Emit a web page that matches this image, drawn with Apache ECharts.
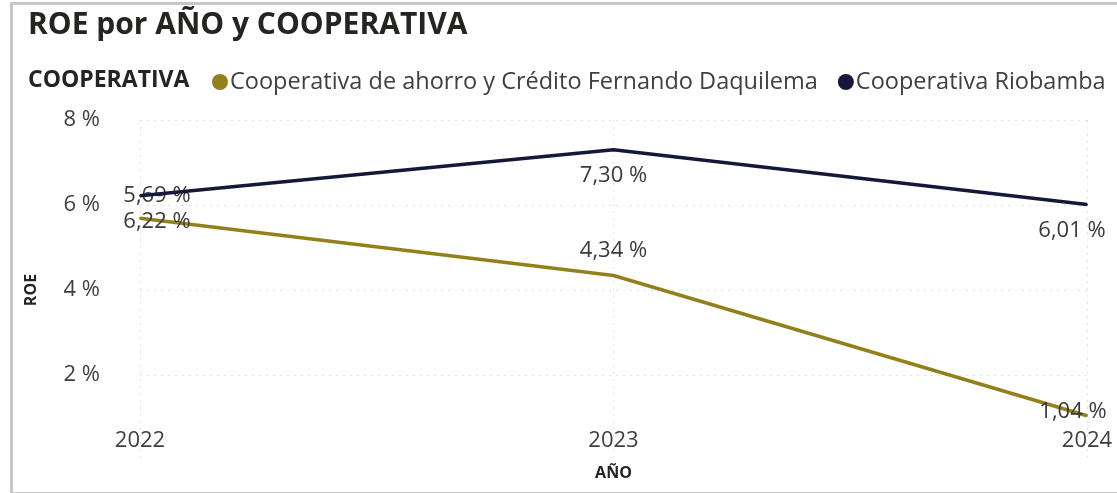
<!DOCTYPE html>
<html>
<head>
<meta charset="utf-8">
<script src="https://cdn.jsdelivr.net/npm/echarts@6/dist/echarts.min.js"></script>
<style>
  html, body { margin: 0; padding: 0; background: #fff; }
  #wrap {
    position: absolute; left: 10px; top: 2px; width: 1107px; height: 487px;
    border-left: 3px solid #c6c6c6; border-top: 3px solid #c6c6c6; border-bottom: 3px solid #c6c6c6;
  }
  #chart { position: absolute; left: -13px; top: -5px; width: 1117px; height: 493px; }
</style>
</head>
<body>
<div id="wrap"><div id="chart"></div></div>
<script>
// datos
const years = ['2022', '2023', '2024'];
const seriesNames = ['Cooperativa de ahorro y Crédito Fernando Daquilema', 'Cooperativa Riobamba'];
const daquilema = [5.69, 4.34, 1.04];
const riobamba = [6.22, 7.30, 6.01];
const yTicks = [2, 4, 6, 8];

const colors = ['#93801a', '#15183a'];
// posiciones de las etiquetas como en el original (Power BI las cruza en 2022)
const labelSide = [['top', 'top', 'top'], ['bottom', 'bottom', 'bottom']];
const labelShift = [
  [[17, -5], [0, -8], [-14, 13]],
  [[17, 9], [0, 9], [-15, 9]]
];

const fmt = v => v.toFixed(2).replace('.', ',') + ' %';

let chart = echarts.init(document.getElementById('chart'));
const font = '"Open Sans", "Noto Sans", sans-serif';

function buildData(values, idx) {
  return values.map((v, i) => ({
    value: v,
    label: { position: labelSide[idx][i] }
  }));
}

let option = {
  textStyle: { fontFamily: font },
  title: [{
    text: 'ROE por AÑO y COOPERATIVA',
    left: 23, top: 5,
    textStyle: { fontSize: 30, fontWeight: 'bold', color: '#252423', fontFamily: font }
  }, {
    text: 'COOPERATIVA',
    left: 23, top: 64,
    textStyle: { fontSize: 23, fontWeight: 'bold', color: '#252423', fontFamily: font }
  }],
  legend: {
    data: seriesNames,
    left: 207, top: 65,
    icon: 'circle',
    itemWidth: 16, itemHeight: 16, itemGap: 20,
    itemStyle: { opacity: 1 },
    textStyle: { fontSize: 23.5, color: '#404040', fontFamily: font, padding: [0, 0, 0, -3] }
  },
  grid: { left: 140, right: 30, top: 120, bottom: 33, containLabel: false },
  xAxis: {
    type: 'category',
    data: years,
    boundaryGap: false,
    offset: -35,
    name: 'AÑO',
    nameLocation: 'middle',
    nameGap: 40,
    nameTextStyle: { fontSize: 16, fontWeight: 'bold', color: '#252423' },
    axisLine: { show: false },
    axisTick: { show: false },
    axisLabel: { fontSize: 22, color: '#404040', margin: 5 },
    splitLine: { show: true, lineStyle: { type: [2, 5], color: '#e0e0e0', width: 1 } }
  },
  yAxis: {
    type: 'value',
    min: 0, max: 8, interval: 2,
    name: 'ROE',
    nameLocation: 'middle',
    nameRotate: 90,
    nameGap: 101,
    nameTextStyle: { fontSize: 16, fontWeight: 'bold', color: '#252423' },
    axisLine: { show: false },
    axisTick: { show: false },
    axisLabel: {
      fontSize: 22, color: '#404040', margin: 40, showMinLabel: false,
      formatter: v => yTicks.includes(v) ? v + ' %' : ''
    },
    splitLine: { show: true, showMinLine: false, lineStyle: { type: [2, 5], color: '#e0e0e0', width: 1 } }
  },
  series: [daquilema, riobamba].map((vals, idx) => ({
    name: seriesNames[idx],
    type: 'line',
    data: buildData(vals, idx),
    symbol: 'circle',
    symbolSize: 2,
    showSymbol: true,
    lineStyle: { width: 3.5, color: colors[idx] },
    itemStyle: { color: colors[idx] },
    label: {
      show: true,
      fontSize: 22,
      color: '#3a3a3a',
      formatter: p => fmt(p.value)
    },
    labelLayout: p => ({
      dx: labelShift[idx][p.dataIndex][0],
      dy: labelShift[idx][p.dataIndex][1],
      hideOverlap: false
    }),
    z: idx + 2
  }))
};

chart.setOption(option);
</script>
</body>
</html>
